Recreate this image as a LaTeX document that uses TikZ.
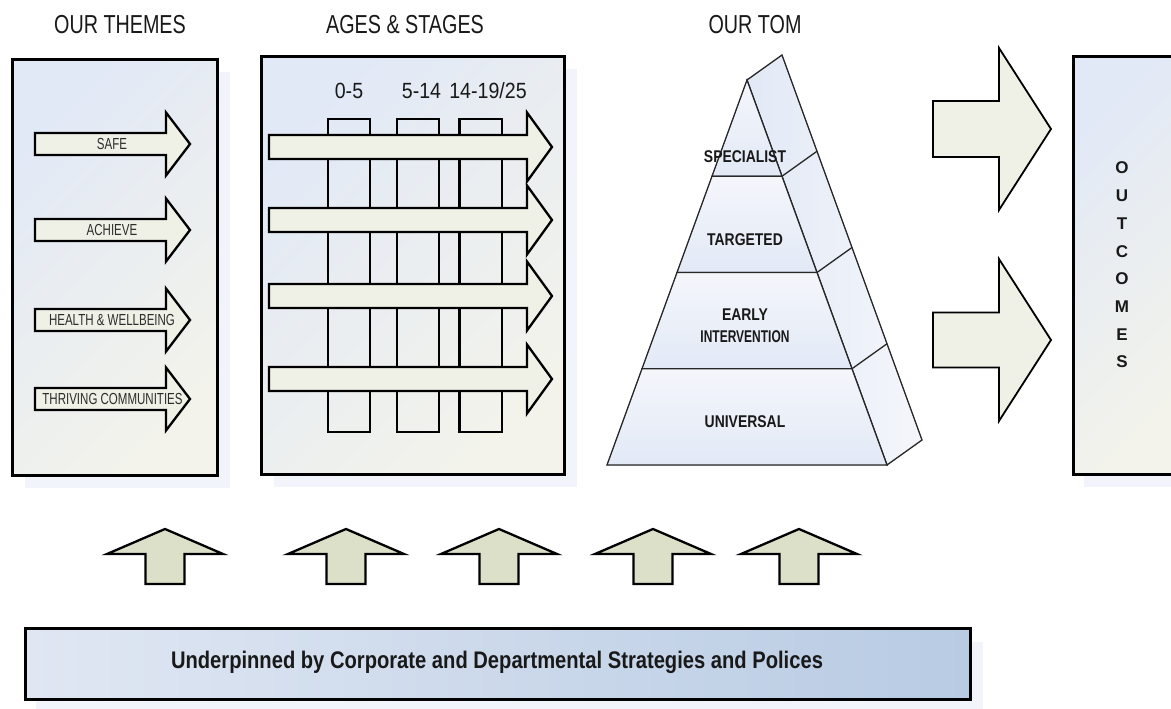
\documentclass[tikz,border=0pt]{standalone}
\usepackage{fontspec}
\setmainfont{Liberation Sans}
\newfontfamily\hdrfont[FakeStretch=0.76]{Liberation Sans}
\newfontfamily\thmfont[FakeStretch=0.72]{Liberation Sans}
\newfontfamily\agefont[FakeStretch=0.89]{Liberation Sans}
\newfontfamily\pyrfont[FakeStretch=0.82]{Liberation Sans}
\newfontfamily\barfont[FakeStretch=0.84]{Liberation Sans}
\usetikzlibrary{calc}
\definecolor{boxblue}{RGB}{226,233,246}
\definecolor{boxbeige}{RGB}{243,243,235}
\definecolor{arrowfill}{RGB}{240,241,230}
\definecolor{upfill}{RGB}{220,224,200}
\definecolor{barA}{RGB}{224,231,243}
\definecolor{barB}{RGB}{184,203,227}
\definecolor{shadowcol}{RGB}{241,244,250}
\definecolor{pyrA}{RGB}{226,233,246}
\definecolor{pyrB}{RGB}{244,246,251}
\definecolor{pyrline}{RGB}{40,40,40}
\definecolor{txtcol}{RGB}{25,25,25}
\definecolor{thmtxt}{RGB}{45,45,45}
\newcommand{\hArrowShape}[7]{%
  \draw[#1] ({#2},{#5-#6}) -- ({#3},{#5-#6}) -- ({#3},{#5-#7}) -- ({#4},{#5})
    -- ({#3},{#5+#7}) -- ({#3},{#5+#6}) -- ({#2},{#5+#6}) -- cycle;}
\newcommand{\uArrowShape}[2]{%
  \draw[#1] ({#2-19.5},584) -- ({#2-19.5},554) -- ({#2-58},554) -- ({#2},529)
    -- ({#2+58},554) -- ({#2+19.5},554) -- ({#2+19.5},584) -- cycle;}
\begin{document}
\begin{tikzpicture}[x=1pt,y=-1pt,
  mainbox/.style={draw=black, line width=3.2pt, top color=boxblue, bottom color=boxbeige, shading angle=45, minimum width=#1, anchor=north west, inner sep=0pt, minimum height=416pt},
  shadowbox/.style={fill=shadowcol, draw=none},
  hdr/.style={font=\hdrfont\fontsize{26}{28}\selectfont, text=txtcol, inner sep=0pt},
  agelbl/.style={font=\agefont\fontsize{22}{24}\selectfont, text=txtcol, inner sep=0pt},
  thmlbl/.style={font=\thmfont\fontsize{16}{18}\selectfont, text=thmtxt, inner sep=0pt},
  pyrlbl/.style={font=\pyrfont\bfseries\fontsize{17}{22}\selectfont, text=txtcol, inner sep=0pt, align=center},
  thmarrow/.style={draw=black, line width=2.3pt, fill=arrowfill, line join=miter},
  agearrow/.style={draw=black, line width=2.3pt, fill=arrowfill, line join=miter},
  bigarrow/.style={draw=black, line width=1.8pt, fill=arrowfill, line join=miter},
  uparrow/.style={draw=black, line width=2.3pt, fill=upfill, line join=miter},
  colbox/.style={draw=black, line width=2.8pt},
  pyrband/.style={draw=pyrline, line width=1.3pt, top color=pyrB, bottom color=pyrA},
  pyrside/.style={draw=pyrline, line width=1.3pt, left color=pyrA, right color=pyrB},
]
\useasboundingbox (0,0) rectangle (1171,709);
\fill[white] (0,0) rectangle (1171,709);

% headings
\node[hdr] (hThemes) at (120,25) {OUR THEMES};
\node[hdr] (hAges) at (405,25) {AGES \& STAGES};
\node[hdr] (hTom) at (755,25) {OUR TOM};

% shadows
\fill[shadowbox] (25,72) rectangle (230,488);
\fill[shadowbox] (274,69) rectangle (577,487);
\fill[shadowbox] (1084,69) rectangle (1190,487);
\fill[shadowbox] (36,642) rectangle (983,712);

% themes box
\node[mainbox=205pt] (themes) at (11,58) {};
\hArrowShape{thmarrow}{35}{166}{190}{144}{11}{31.5}
\hArrowShape{thmarrow}{35}{166}{190}{230}{11}{31.5}
\hArrowShape{thmarrow}{35}{166}{190}{320}{11}{31.5}
\hArrowShape{thmarrow}{35}{166}{190}{399}{11}{31.5}
\node[thmlbl] (tSafe) at (112,144) {SAFE};
\node[thmlbl] (tAchieve) at (112,230) {ACHIEVE};
\node[thmlbl] (tHealth) at (112,320) {HEALTH \& WELLBEING};
\node[thmlbl] (tThriving) at (112.5,399) {THRIVING COMMUNITIES};

% ages box
\node[mainbox=303pt, minimum height=418pt] (ages) at (260,55) {};
\node[agelbl] (a1) at (349,91) {0-5};
\node[agelbl] (a2) at (421.5,91) {5-14};
\node[agelbl] (a3) at (488,91) {14-19/25};
\draw[colbox] (328,119) rectangle (370,432);
\draw[colbox] (397,119) rectangle (439,432);
\draw[colbox] (459.5,119) rectangle (502,432);
\hArrowShape{agearrow}{269}{527}{552}{147}{12}{34.5}
\hArrowShape{agearrow}{269}{527}{552}{220}{12}{34.5}
\hArrowShape{agearrow}{269}{527}{552}{296}{12}{34.5}
\hArrowShape{agearrow}{269}{527}{552}{379}{12}{34.5}

% pyramid
\coordinate (pA) at (747,80);
\coordinate (pL) at (607,465);
\coordinate (pR) at (887,465);
\filldraw[pyrside] (pA) -- ++(35,-25) -- ($(pR)+(35,-25)$) -- (pR) -- cycle;
\filldraw[pyrband] (pA) -- ($(pA)!0.25!(pR)$) -- ($(pA)!0.25!(pL)$) -- cycle;
\filldraw[pyrband] ($(pA)!0.25!(pL)$) -- ($(pA)!0.25!(pR)$) -- ($(pA)!0.5!(pR)$) -- ($(pA)!0.5!(pL)$) -- cycle;
\filldraw[pyrband] ($(pA)!0.5!(pL)$) -- ($(pA)!0.5!(pR)$) -- ($(pA)!0.75!(pR)$) -- ($(pA)!0.75!(pL)$) -- cycle;
\filldraw[pyrband] ($(pA)!0.75!(pL)$) -- ($(pA)!0.75!(pR)$) -- (pR) -- (pL) -- cycle;
\draw[draw=pyrline, line width=1.3pt] ($(pA)!0.25!(pR)$) -- ++(35,-25);
\draw[draw=pyrline, line width=1.3pt] ($(pA)!0.5!(pR)$) -- ++(35,-25);
\draw[draw=pyrline, line width=1.3pt] ($(pA)!0.75!(pR)$) -- ++(35,-25);
\node[pyrlbl] (pSpec) at (745,157) {SPECIALIST};
\node[pyrlbl] (pTarg) at (745,240) {TARGETED};
\node[pyrlbl] (pEarly) at (745,326) {EARLY\\\scalebox{0.86}[1]{INTERVENTION}};
\node[pyrlbl] (pUniv) at (745,422) {UNIVERSAL};

% big right arrows
\hArrowShape{bigarrow}{933}{999}{1051}{129}{28}{81}
\hArrowShape{bigarrow}{933}{999}{1051}{340}{27.5}{81}

% outcomes box
\node[mainbox=110pt, minimum height=418pt] (outcomes) at (1072,55) {};
\node[font=\bfseries\fontsize{17}{27.7}\selectfont, text=txtcol, align=center, inner sep=0pt] (outTxt) at (1122,265)
  {O\\U\\T\\C\\O\\M\\E\\S};

% up arrows
\uArrowShape{uparrow}{165}
\uArrowShape{uparrow}{346}
\uArrowShape{uparrow}{499}
\uArrowShape{uparrow}{653}
\uArrowShape{uparrow}{799}

% bottom bar
\node[draw=black, line width=3.2pt, left color=barA, right color=barB, minimum width=945pt, minimum height=71pt, anchor=north west, inner sep=0pt] (bar) at (24,627) {};
\node[font=\barfont\bfseries\fontsize{24}{26}\selectfont, text=txtcol, inner sep=0pt] (barTxt) at (497,662)
  {Underpinned by Corporate and Departmental Strategies and Polices};
\end{tikzpicture}
\end{document}
